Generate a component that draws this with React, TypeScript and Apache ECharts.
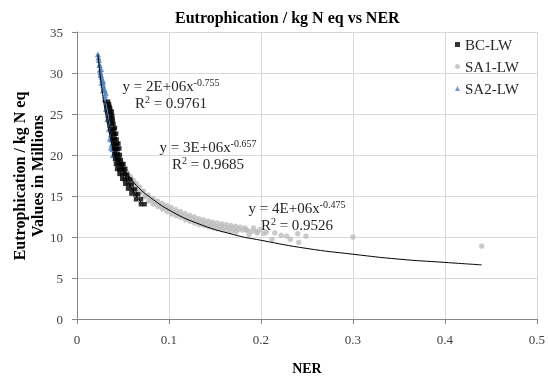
import React, { useEffect, useRef } from "react";
import * as echarts from "echarts";

// ---- data (values in millions) ----
const seriesNames = ["BC-LW", "SA1-LW", "SA2-LW"];
const xTicks = [0, 0.1, 0.2, 0.3, 0.4, 0.5];
const yTicks = [0, 5, 10, 15, 20, 25, 30, 35];

const bcPoints: [number, number][] = [
  [0.0338, 26.5], [0.0348, 26.2],
  [0.0352, 25.9], [0.036, 25.7],
  [0.0362, 25.3], [0.0377, 25.3],
  [0.0368, 24.9], [0.0384, 24.8],
  [0.0373, 24.4], [0.0389, 24.3],
  [0.0381, 23.8], [0.0396, 23.8],
  [0.0384, 23.2], [0.0401, 23.1], [0.0412, 23.3],
  [0.0392, 22.6], [0.0409, 22.5], [0.0425, 22.6],
  [0.0395, 22.0], [0.0412, 21.9], [0.0431, 21.9],
  [0.0398, 21.4], [0.0416, 21.3], [0.0434, 21.3], [0.0450, 21.4],
  [0.0403, 20.8], [0.0422, 20.7], [0.0440, 20.7], [0.0460, 20.8],
  [0.0406, 20.1], [0.0425, 20.0], [0.0445, 20.1], [0.0466, 20.0],
  [0.0414, 19.5], [0.0434, 19.4], [0.0454, 19.5], [0.0476, 19.4],
  [0.0424, 18.9], [0.0445, 18.8], [0.0466, 18.9], [0.0489, 18.8], [0.0505, 18.9],
  [0.0436, 18.3], [0.0459, 18.2], [0.0481, 18.3], [0.0503, 18.2], [0.0525, 18.3],
  [0.0462, 17.7], [0.0490, 17.6], [0.0518, 17.7], [0.0545, 17.6],
  [0.0492, 17.1], [0.0520, 17.0], [0.0550, 17.1], [0.0580, 17.0],
  [0.0525, 16.5], [0.0558, 16.4], [0.0595, 16.4],
  [0.0555, 15.9], [0.0595, 15.8], [0.0630, 15.8],
  [0.0592, 15.3], [0.0635, 15.2], [0.0665, 15.2],
  [0.0642, 14.6], [0.0695, 14.6],
  [0.0695, 14.0], [0.0735, 14.0],
];

const sa1Points: [number, number][] = [
  [0.047, 19.2], [0.050, 18.4], [0.053, 17.9], [0.056, 17.3], [0.060, 16.7], [0.063, 16.3],
  [0.066, 15.9], [0.070, 15.5], [0.075, 15.0], [0.080, 14.5], [0.085, 14.2], [0.090, 13.9],
  [0.095, 13.6], [0.100, 13.4], [0.105, 13.1], [0.110, 12.9], [0.115, 12.6], [0.120, 12.4],
  [0.125, 12.2], [0.130, 12.0], [0.135, 11.8], [0.140, 11.7], [0.145, 11.5], [0.150, 11.4],
  [0.155, 11.3], [0.160, 11.2], [0.165, 11.1], [0.170, 11.0], [0.175, 10.9], [0.180, 10.85],
  [0.185, 10.8], [0.190, 10.7], [0.195, 10.65],
  [0.0485, 19.1], [0.0515, 18.5], [0.0545, 17.9], [0.058, 17.4], [0.0615, 16.9], [0.0645, 16.5],
  [0.068, 16.1], [0.0725, 15.6], [0.0775, 15.1], [0.0825, 14.7], [0.0875, 14.4], [0.0925, 14.1],
  [0.0975, 13.85], [0.1025, 13.6], [0.1075, 13.35], [0.1125, 13.1], [0.1175, 12.85], [0.1225, 12.65],
  [0.1275, 12.45], [0.1325, 12.25], [0.1375, 12.1], [0.1425, 11.95], [0.1475, 11.8], [0.1525, 11.7],
  [0.1575, 11.6], [0.1625, 11.5], [0.1675, 11.4], [0.1725, 11.3], [0.1775, 11.2], [0.1825, 11.1],
  [0.051, 17.9], [0.055, 17.1], [0.059, 16.5], [0.064, 15.9], [0.068, 15.4], [0.073, 14.9],
  [0.078, 14.4], [0.083, 14.0], [0.088, 13.7], [0.093, 13.4], [0.098, 13.1], [0.103, 12.8],
  [0.108, 12.6], [0.113, 12.4], [0.118, 12.1], [0.123, 11.9], [0.128, 11.7], [0.133, 11.5],
  [0.138, 11.4], [0.143, 11.25], [0.148, 11.1], [0.153, 11.0], [0.158, 10.9], [0.163, 10.8],
  [0.168, 10.7], [0.173, 10.6],
  [0.184, 10.9], [0.187, 10.3], [0.192, 11.1], [0.196, 10.5], [0.199, 10.9], [0.203, 10.4],
  [0.206, 10.6], [0.212, 9.7], [0.215, 10.5], [0.222, 10.2], [0.228, 10.1], [0.232, 9.7],
  [0.240, 10.4], [0.241, 9.35], [0.249, 10.1], [0.300, 10.0], [0.440, 8.9],
];

const sa2Points: [number, number][] = [
  [0.0227, 32.3], [0.0233, 31.9], [0.0238, 31.6], [0.0244, 31.0], [0.0249, 30.4], [0.0255, 30.1],
  [0.0260, 29.8], [0.0266, 29.5], [0.0271, 29.2], [0.0278, 28.8], [0.0285, 28.5], [0.0292, 28.2],
  [0.0298, 27.9], [0.0306, 27.3], [0.0314, 26.7], [0.0322, 26.1], [0.0330, 25.5], [0.0338, 24.9],
  [0.0346, 24.3], [0.0355, 23.7], [0.0363, 23.1], [0.0368, 22.5], [0.0373, 21.9], [0.0378, 21.3],
  [0.0384, 20.7], [0.0390, 20.0],
  [0.0246, 31.0], [0.0256, 29.8], [0.0268, 28.8], [0.0283, 27.9], [0.0299, 26.8], [0.0315, 25.6],
  [0.0331, 24.4], [0.0348, 23.2], [0.0358, 22.0], [0.0368, 20.9],
  [0.0262, 30.5], [0.0286, 29.0], [0.0313, 27.6], [0.0329, 26.4], [0.0345, 25.3], [0.0361, 24.2],
  [0.0378, 23.0], [0.0388, 21.9], [0.0399, 20.8], [0.0405, 20.1],
];

// trendlines
const sa2Trend: [number, number][] = [
  [0.0227, 32.3], [0.025, 29.9], [0.0275, 27.7], [0.030, 25.8], [0.0325, 24.2],
  [0.035, 22.8], [0.0375, 21.5], [0.040, 20.5], [0.0415, 19.9],
];
const bcTrend: [number, number][] = [
  [0.030, 26.6], [0.035, 23.6], [0.040, 21.3], [0.045, 19.5], [0.050, 18.0],
  [0.055, 16.8], [0.060, 15.8], [0.065, 14.9], [0.070, 14.2],
];
const sa1Trend: [number, number][] = [
  [0.045, 19.4], [0.05, 18.5], [0.06, 16.9], [0.07, 15.7], [0.08, 14.8], [0.1, 13.3],
  [0.13, 11.7], [0.17, 10.3], [0.2, 9.6], [0.25, 8.6], [0.3, 7.9], [0.35, 7.3],
  [0.4, 6.9], [0.44, 6.6],
];

const equations = [
  { eq: "y = 2E+06x", exp: "-0.755", r2: "0.9761" },
  { eq: "y = 3E+06x", exp: "-0.657", r2: "0.9685" },
  { eq: "y = 4E+06x", exp: "-0.475", r2: "0.9526" },
];

const FONT = "'Liberation Serif', 'Times New Roman', serif";
const TXT = "#262626";

export default function App() {
  const ref = useRef<HTMLDivElement>(null);
  useEffect(() => {
    if (!ref.current) return;
    const chart = echarts.init(ref.current, undefined, { renderer: "svg" });
    const eqPos = [
      [171, 94],
      [208, 155],
      [297, 216],
    ];
    const trendSeries = [sa2Trend, bcTrend, sa1Trend].map((d, i) => ({
      name: "trend" + i,
      type: "line",
      data: d,
      smooth: true,
      showSymbol: false,
      symbol: "none",
      silent: true,
      lineStyle: { color: "#000", width: 1 },
      z: 5,
    }));
    chart.setOption({
      animation: false,
      textStyle: { fontFamily: FONT },
      title: {
        text: "Eutrophication / kg N eq vs NER",
        left: 170,
        top: 4,
        textStyle: { fontFamily: FONT, fontSize: 16, fontWeight: "bold", color: "#000" },
      },
      legend: {
        data: [
          { name: seriesNames[0], icon: "rect" },
          { name: seriesNames[1], icon: "circle" },
          { name: seriesNames[2], icon: "triangle" },
        ],
        orient: "vertical",
        left: 450,
        top: 32,
        itemWidth: 5,
        itemHeight: 5,
        itemGap: 7,
        textStyle: { fontFamily: FONT, fontSize: 15, color: TXT },
      },
      grid: { left: 77, right: 9, top: 32, bottom: 60 },
      xAxis: {
        type: "value",
        min: xTicks[0],
        max: xTicks[xTicks.length - 1],
        interval: 0.1,
        axisLine: { lineStyle: { color: "#868686" } },
        axisTick: { show: true, length: 5, lineStyle: { color: "#868686" } },
        splitLine: { lineStyle: { color: "#d9d9d9" } },
        axisLabel: { fontFamily: FONT, fontSize: 13, color: "#404040", margin: 14 },
        name: "NER",
        nameLocation: "middle",
        nameGap: 42,
        nameTextStyle: { fontFamily: FONT, fontSize: 14, fontWeight: "bold", color: "#000" },
      },
      yAxis: {
        type: "value",
        min: yTicks[0],
        max: yTicks[yTicks.length - 1],
        interval: 5,
        axisLine: { show: true, lineStyle: { color: "#868686" } },
        axisTick: { show: true, length: 5, lineStyle: { color: "#868686" } },
        splitLine: { lineStyle: { color: "#d9d9d9" } },
        axisLabel: { fontFamily: FONT, fontSize: 13, color: "#404040", margin: 14 },
      },
      graphic: [
        {
          type: "text",
          x: 28,
          y: 176,
          rotation: Math.PI / 2,
          style: {
            text: "Eutrophication / kg N eq\nValues in Millions",
            font: "bold 16px " + FONT,
            fill: "#000",
            align: "center",
            verticalAlign: "middle",
            textAlign: "center",
            textVerticalAlign: "middle",
            lineHeight: 18,
          },
        },
        ...equations.map((e, i) => ({
          type: "text",
          x: eqPos[i][0],
          y: eqPos[i][1],
          z: 10,
          style: {
            text: `{a|${e.eq}}{s|${e.exp}}\n{a|R}{s|2}{a| = ${e.r2}}`,
            align: "center",
            verticalAlign: "middle",
            textAlign: "center",
            textVerticalAlign: "middle",
            fill: TXT,
            rich: {
              a: { fontFamily: FONT, fontSize: 15, fill: TXT, color: TXT, lineHeight: 17 },
              s: { fontFamily: FONT, fontSize: 10, fill: TXT, color: TXT, lineHeight: 17, verticalAlign: "top" },
            },
          },
        })),
      ],
      series: [
        {
          name: seriesNames[1],
          type: "scatter",
          data: sa1Points,
          symbol: "circle",
          symbolSize: 5.5,
          itemStyle: { color: "#bdbdbd" },
          z: 2,
        },
        {
          name: seriesNames[2],
          type: "scatter",
          data: sa2Points,
          symbol: "triangle",
          symbolSize: 6,
          itemStyle: { color: "#4f81bd" },
          z: 3,
        },
        {
          name: seriesNames[0],
          type: "scatter",
          data: bcPoints,
          symbol: "rect",
          symbolSize: 4.5,
          itemStyle: { color: "#000" },
          z: 4,
        },
        ...trendSeries,
      ],
    });
    return () => chart.dispose();
  }, []);
  return (
    <div
      ref={ref}
      style={{ position: "fixed", left: 0, top: 0, width: 548, height: 380 }}
    />
  );
}
